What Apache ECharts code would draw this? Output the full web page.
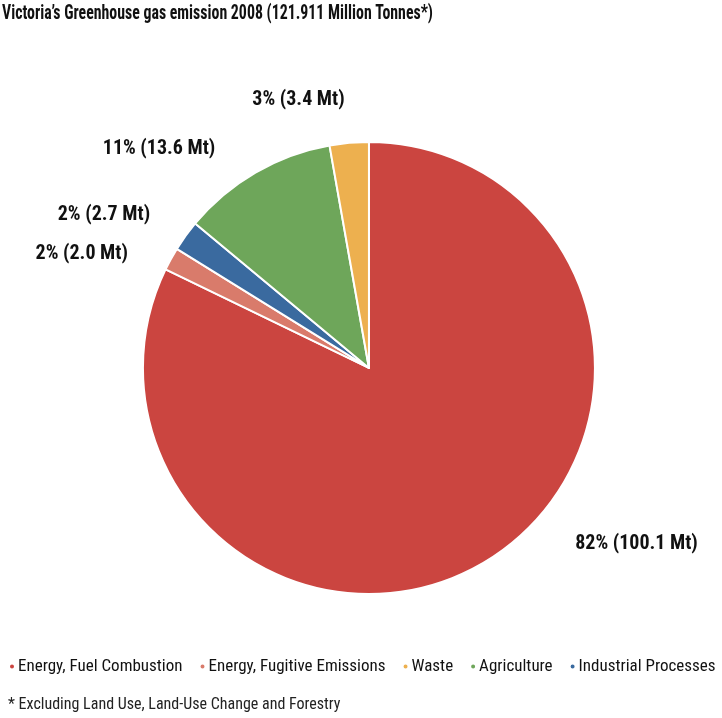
<!DOCTYPE html>
<html><head><meta charset="utf-8">
<script src="https://cdn.jsdelivr.net/npm/echarts@6/dist/echarts.min.js"></script>
<style>html,body{margin:0;padding:0;background:#fff}#c{width:722px;height:718px}</style>
</head><body><div id="c"></div>
<script>
var categories = ['Energy, Fuel Combustion','Energy, Fugitive Emissions','Industrial Processes','Agriculture','Waste'];
var values = [100.1, 2.0, 2.7, 13.6, 3.4];
var percents = [82, 2, 2, 11, 3];
var legendOrder = ['Energy, Fuel Combustion','Energy, Fugitive Emissions','Waste','Agriculture','Industrial Processes'];
var colors = ['#CB4540','#D97B6B','#3A6A9F','#6EA65A','#EDB04F'];
var FONT = '"Roboto Condensed","DejaVu Sans Condensed",sans-serif';
var labelShift = [[60,-49],[-3,14],[2,2],[-15,11],[4,-3]];

var chart = echarts.init(document.getElementById('c'));
chart.setOption({
  animation:false,
  graphic:[
    {type:'text',left:2,top:3,scaleX:0.755,style:{text:'Victoria\u2019s Greenhouse gas emission 2008 (121.911 Million Tonnes*)',font:'bold 21px '+FONT,fill:'#111'}},
    {type:'text',left:8,top:697,style:{text:'* Excluding Land Use, Land-Use Change and Forestry',font:'16px '+FONT,fill:'#222'}}
  ],
  legend:{data:legendOrder,left:3,top:653,icon:'circle',itemWidth:6,itemHeight:6,itemGap:16,
    textStyle:{fontFamily:FONT,fontSize:17,color:'#111',padding:[0,0,0,-2]}},
  series:[{type:'pie',center:['51.1%','51.25%'],radius:226,startAngle:90,clockwise:true,
    itemStyle:{borderColor:'#fff',borderWidth:2},
    label:{show:true,position:'outside',fontFamily:FONT,fontSize:20,fontWeight:'bold',color:'#111',
      formatter:function(p){return percents[p.dataIndex]+'% ('+values[p.dataIndex].toFixed(1)+' Mt)';}},
    labelLine:{show:false,length:40,length2:0},
    labelLayout:function(p){var s=labelShift[p.dataIndex];return {dx:s[0],dy:s[1]};},
    data:categories.map(function(c,i){return {name:c,value:values[i],itemStyle:{color:colors[i]}};})
  }]
});
</script></body></html>
